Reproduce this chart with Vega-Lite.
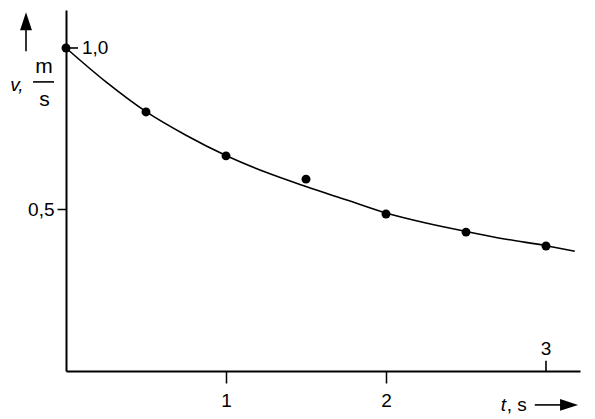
{
  "$schema": "https://vega.github.io/schema/vega-lite/v6.json",
  "width": 514,
  "height": 361,
  "autosize": {"type": "none"},
  "padding": {"left": 66, "top": 10, "right": 15, "bottom": 48},
  "background": "white",
  "config": {"view": {"stroke": null}, "font": "Liberation Sans"},
  "datasets": {
    "measured": [
      {"t": 0, "v": 1.0},
      {"t": 0.5, "v": 0.802},
      {"t": 1.0, "v": 0.666},
      {"t": 1.5, "v": 0.594},
      {"t": 2.0, "v": 0.486},
      {"t": 2.5, "v": 0.43},
      {"t": 3.0, "v": 0.387}
    ],
    "curve": [
      {"t": 0, "v": 1.0},
      {"t": 0.25, "v": 0.895},
      {"t": 0.5, "v": 0.803},
      {"t": 0.75, "v": 0.73},
      {"t": 1.0, "v": 0.667},
      {"t": 1.25, "v": 0.615},
      {"t": 1.5, "v": 0.571},
      {"t": 1.75, "v": 0.53},
      {"t": 2.0, "v": 0.489},
      {"t": 2.25, "v": 0.458},
      {"t": 2.5, "v": 0.432},
      {"t": 2.75, "v": 0.408},
      {"t": 3.0, "v": 0.388},
      {"t": 3.18, "v": 0.371}
    ],
    "rules": [
      {"x": 0, "x2": 0.075, "y": 1.0, "y2": 1.0},
      {"x": 3.0, "x2": 3.0, "y": 0, "y2": 0.032},
      {"x": -0.206, "x2": -0.075, "y": 0.895, "y2": 0.895},
      {"x": -0.25, "x2": -0.25, "y": 0.99, "y2": 1.06},
      {"x": 2.93, "x2": 3.11, "y": -0.105, "y2": -0.105}
    ],
    "headUp": [{"x": -0.25, "y": 1.083}],
    "headRight": [{"x": 3.144, "y": -0.105}],
    "labelsLeft": [
      {"x": 0.1, "y": 1.0, "text": "1,0"},
      {"x": 2.755, "y": -0.105, "text": ", s"}
    ],
    "labelsCenter": [
      {"x": 3.0, "y": 0.068, "text": "3"}
    ],
    "unit": [
      {"x": -0.1375, "y": 0.94, "text": "m"},
      {"x": -0.135, "y": 0.84, "text": "s"}
    ],
    "italic": [
      {"x": -0.265, "y": 0.885, "text": "v,"},
      {"x": 2.75, "y": -0.105, "text": "t"}
    ]
  },
  "layer": [
    {
      "data": {"name": "curve"},
      "mark": {"type": "line", "color": "black", "strokeWidth": 1.6, "interpolate": "monotone", "clip": false},
      "encoding": {
        "x": {
          "field": "t", "type": "quantitative",
          "scale": {"domain": [0, 3.2125], "nice": false, "zero": false},
          "axis": {
            "values": [1, 2], "title": null, "grid": false, "format": "d",
            "domainColor": "black", "domainWidth": 2,
            "tickColor": "black", "tickWidth": 1.5, "tickSize": 12,
            "labelFontSize": 19, "labelColor": "black", "labelPadding": 8,
            "labelFont": "Liberation Sans"
          }
        },
        "y": {
          "field": "v", "type": "quantitative",
          "scale": {"domain": [0, 1.1176], "nice": false, "zero": false},
          "axis": {
            "values": [0.5], "title": null, "grid": false,
            "domainColor": "black", "domainWidth": 2,
            "tickColor": "black", "tickWidth": 1.5, "tickSize": 9,
            "labelFontSize": 19, "labelColor": "black", "labelPadding": 3,
            "labelFont": "Liberation Sans",
            "labelExpr": "replace(format(datum.value, '.1f'), '.', ',')"
          }
        }
      }
    },
    {
      "data": {"name": "measured"},
      "mark": {"type": "circle", "color": "black", "opacity": 1, "size": 80, "clip": false},
      "encoding": {
        "x": {"field": "t", "type": "quantitative"},
        "y": {"field": "v", "type": "quantitative"}
      }
    },
    {
      "data": {"name": "rules"},
      "mark": {"type": "rule", "color": "black", "strokeWidth": 1.6, "clip": false},
      "encoding": {
        "x": {"field": "x", "type": "quantitative"},
        "x2": {"field": "x2"},
        "y": {"field": "y", "type": "quantitative"},
        "y2": {"field": "y2"}
      }
    },
    {
      "data": {"name": "headUp"},
      "mark": {"type": "point", "filled": true, "color": "black", "opacity": 1, "size": 324, "strokeWidth": 0, "shape": "M-0.66,1L0,-1L0.66,1Z", "clip": false},
      "encoding": {
        "x": {"field": "x", "type": "quantitative"},
        "y": {"field": "y", "type": "quantitative"}
      }
    },
    {
      "data": {"name": "headRight"},
      "mark": {"type": "point", "filled": true, "color": "black", "opacity": 1, "size": 324, "strokeWidth": 0, "shape": "M-1,-0.66L1,0L-1,0.66Z", "clip": false},
      "encoding": {
        "x": {"field": "x", "type": "quantitative"},
        "y": {"field": "y", "type": "quantitative"}
      }
    },
    {
      "data": {"name": "labelsLeft"},
      "mark": {"type": "text", "color": "black", "fontSize": 19, "font": "Liberation Sans", "baseline": "middle", "align": "left", "clip": false},
      "encoding": {
        "x": {"field": "x", "type": "quantitative"},
        "y": {"field": "y", "type": "quantitative"},
        "text": {"field": "text"}
      }
    },
    {
      "data": {"name": "labelsCenter"},
      "mark": {"type": "text", "color": "black", "fontSize": 19, "font": "Liberation Sans", "baseline": "middle", "align": "center", "clip": false},
      "encoding": {
        "x": {"field": "x", "type": "quantitative"},
        "y": {"field": "y", "type": "quantitative"},
        "text": {"field": "text"}
      }
    },
    {
      "data": {"name": "unit"},
      "mark": {"type": "text", "color": "black", "fontSize": 21, "font": "Liberation Sans", "baseline": "middle", "align": "center", "clip": false},
      "encoding": {
        "x": {"field": "x", "type": "quantitative"},
        "y": {"field": "y", "type": "quantitative"},
        "text": {"field": "text"}
      }
    },
    {
      "data": {"name": "italic"},
      "mark": {"type": "text", "color": "black", "fontSize": 19, "font": "Liberation Sans", "fontStyle": "italic", "baseline": "middle", "align": "right", "clip": false},
      "encoding": {
        "x": {"field": "x", "type": "quantitative"},
        "y": {"field": "y", "type": "quantitative"},
        "text": {"field": "text"}
      }
    }
  ]
}
